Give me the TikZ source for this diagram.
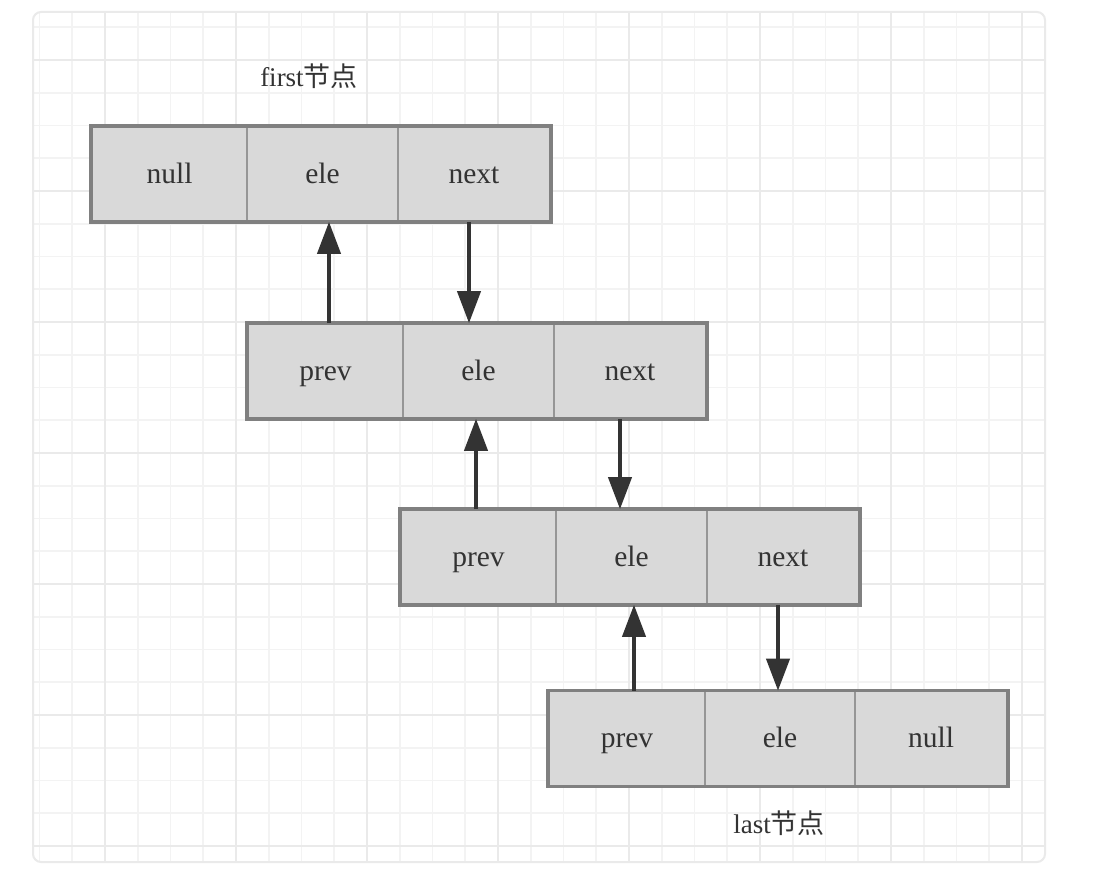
\documentclass[tikz,border=0pt]{standalone}
\usepackage{fontspec}
\setmainfont{Liberation Serif}
\newfontfamily\cjk{Noto Sans CJK SC}
\usetikzlibrary{arrows.meta}
\definecolor{gridminor}{RGB}{243,243,243}
\definecolor{gridmajor}{RGB}{234,234,234}
\definecolor{cellfill}{RGB}{217,217,217}
\definecolor{cellline}{RGB}{128,128,128}
\definecolor{divline}{RGB}{150,150,150}
\definecolor{ink}{RGB}{51,51,51}
\tikzset{
  cell/.style={rectangle, fill=cellfill, draw=divline, line width=1.6pt,
    minimum height=94pt, inner sep=0pt, text height=22pt, text depth=4pt,
    text=ink, font=\fontsize{29.5}{31}\selectfont},
  boxframe/.style={draw=cellline, line width=3.5pt},
  ptr/.style={draw=ink, line width=4pt, -{Triangle[length=32pt,width=23pt]}},
  caption/.style={text=ink, font=\fontsize{27}{30}\selectfont, inner sep=0pt}
}
\begin{document}
\begin{tikzpicture}[x=1pt,y=-1pt]
\useasboundingbox (0,0) rectangle (1111,880);
\fill[white] (0,0) rectangle (1111,880);
% grid background
\begin{scope}
\clip[rounded corners=8pt] (33,12) rectangle (1045,862);
\foreach \i in {-2,...,31} {
  \draw[gridminor, line width=1.6pt] ({105+32.75*\i},12) -- ({105+32.75*\i},862);
}
\foreach \j in {-6,...,27} {
  \draw[gridminor, line width=1.6pt] (33,{846-32.75*\j}) -- (1045,{846-32.75*\j});
}
\foreach \i in {0,...,7} {
  \draw[gridmajor, line width=2.4pt] ({105+131*\i},12) -- ({105+131*\i},862);
}
\foreach \j in {0,...,6} {
  \draw[gridmajor, line width=2.4pt] (33,{846-131*\j}) -- (1045,{846-131*\j});
}
\end{scope}
\draw[gridmajor, line width=2pt, rounded corners=8pt] (33,12) rectangle (1045,862);

% node 1 (first)
\node[cell, minimum width=155pt] (a1) at (169.5,174) {null};
\node[cell, minimum width=151pt] (a2) at (322.5,174) {ele};
\node[cell, minimum width=152pt] (a3) at (474,174) {next};
\draw[boxframe] (a1.north west) rectangle (a3.south east);

% node 2
\node[cell, minimum width=155pt] (b1) at (325.5,371) {prev};
\node[cell, minimum width=151pt] (b2) at (478.5,371) {ele};
\node[cell, minimum width=152pt] (b3) at (630,371) {next};
\draw[boxframe] (b1.north west) rectangle (b3.south east);

% node 3
\node[cell, minimum width=155pt] (c1) at (478.5,557) {prev};
\node[cell, minimum width=151pt] (c2) at (631.5,557) {ele};
\node[cell, minimum width=152pt] (c3) at (783,557) {next};
\draw[boxframe] (c1.north west) rectangle (c3.south east);

% node 4 (last)
\node[cell, minimum width=156pt] (d1) at (627,738.5) {prev};
\node[cell, minimum width=150pt] (d2) at (780,738.5) {ele};
\node[cell, minimum width=152pt] (d3) at (931,738.5) {null};
\draw[boxframe] (d1.north west) rectangle (d3.south east);

% captions
\node[caption] (firstlbl) at (309,76) {first{\cjk 节点}};
\node[caption] (lastlbl) at (779,823) {last{\cjk 节点}};

% pointers
\draw[ptr] (b1.north -| 329,0) -- (a2.south -| 329,0);
\draw[ptr] (a3.south -| 469,0) -- (b2.north -| 469,0);
\draw[ptr] (c1.north -| 476,0) -- (b2.south -| 476,0);
\draw[ptr] (b3.south -| 620,0) -- (c2.north -| 620,0);
\draw[ptr] (d1.north -| 634,0) -- (c2.south -| 634,0);
\draw[ptr] (c3.south -| 778,0) -- (d2.north -| 778,0);
\end{tikzpicture}
\end{document}
